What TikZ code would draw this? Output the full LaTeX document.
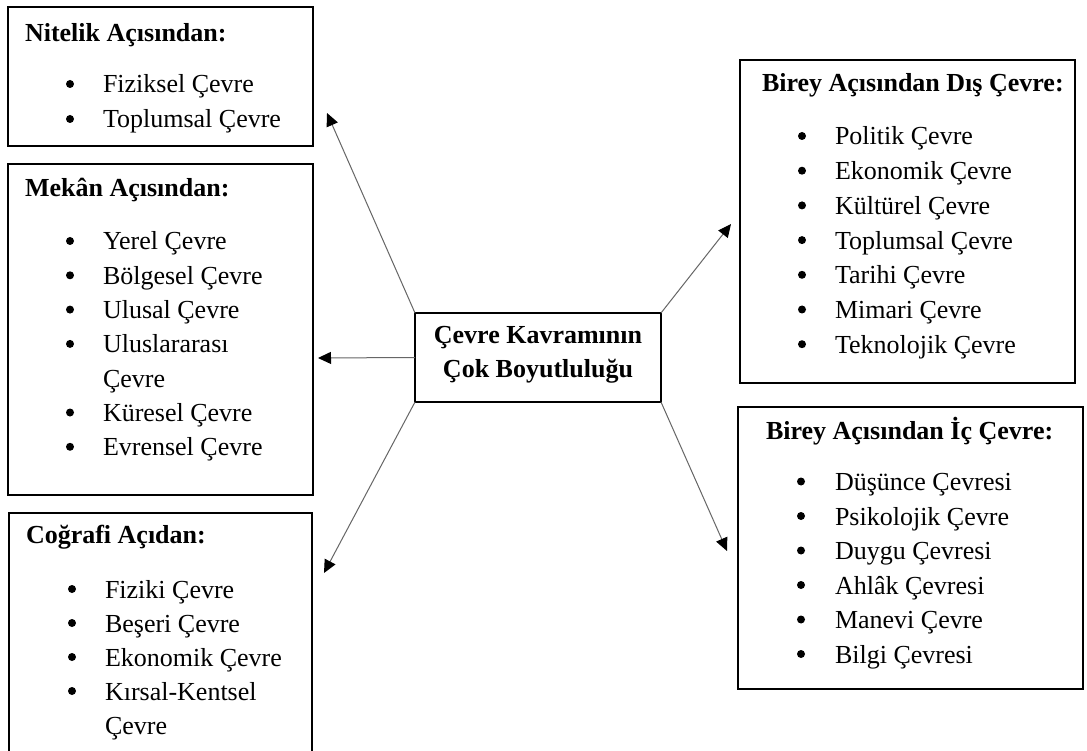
\documentclass[tikz,border=0pt]{standalone}
\usepackage{fontspec}
\setmainfont{Liberation Serif}
\usetikzlibrary{arrows.meta}
\tikzset{
  every node/.style={inner sep=0pt, outer sep=0pt},
  box/.style={draw=black, line width=1.6pt, anchor=north west},
  txt/.style={anchor=base west, font=\fontsize{26}{34}\selectfont},
  head/.style={anchor=base west, font=\fontsize{26}{34}\selectfont\bfseries},
  headc/.style={anchor=base, font=\fontsize{26}{34}\selectfont\bfseries},
  bul/.style={circle, fill=black, minimum size=8pt, yshift=9pt},
  arr/.style={draw=black!60, line width=1pt, -{Triangle[length=13pt,width=12pt,color=black]}},
}
\begin{document}
\begin{tikzpicture}[x=1pt,y=-1pt]
\clip (0,0) rectangle (1087,751);
\fill[white] (0,0) rectangle (1087,751);

% boxes
\node[box, minimum width=305pt, minimum height=139pt] (nit) at (8,7) {};
\node[box, minimum width=305pt, minimum height=331pt] (mek) at (8,164) {};
\node[box, minimum width=303pt, minimum height=260pt] (cog) at (9,513) {};
\node[box, minimum width=335pt, minimum height=323pt] (dis) at (740,60) {};
\node[box, minimum width=345pt, minimum height=282pt] (ic) at (738,407) {};
\node[box, minimum width=246pt, minimum height=89pt] (ctr) at (415,313) {};

% centre text
\node[headc] (ctrA) at (538,343) {Çevre Kavramının};
\node[headc] (ctrB) at (538,377) {Çok Boyutluluğu};

% Nitelik
\node[head] (nitH) at (25,42) {Nitelik Açısından:};
\foreach \t [count=\i from 0] in {Fiziksel Çevre, Toplumsal Çevre} {
  \node[bul] (nitB\i) at (70,{93+\i*35}) {};
  \node[txt] (nitT\i) at (103,{93+\i*35}) {\t};
}

% Mekan
\node[head] (mekH) at (25,197) {Mekân Açısından:};
\foreach \t [count=\i from 0] in {Yerel Çevre, Bölgesel Çevre, Ulusal Çevre, Uluslararası, Çevre, Küresel Çevre, Evrensel Çevre} {
  \node[txt] (mekT\i) at (103,{250+\i*34.3}) {\t};
}
\foreach \i in {0,1,2,3,5,6} {
  \node[bul] (mekB\i) at (70,{250+\i*34.3}) {};
}

% Cografi
\node[head] (cogH) at (26,543) {Coğrafi Açıdan:};
\foreach \t [count=\i from 0] in {Fiziki Çevre, Beşeri Çevre, Ekonomik Çevre, Kırsal-Kentsel, Çevre} {
  \node[txt] (cogT\i) at (105,{598+\i*34}) {\t};
}
\foreach \i in {0,1,2,3} {
  \node[bul] (cogB\i) at (72,{598+\i*34}) {};
}

% Dis
\node[head] (disH) at (762,92) {Birey Açısından Dış Çevre:};
\foreach \t [count=\i from 0] in {Politik Çevre, Ekonomik Çevre, Kültürel Çevre, Toplumsal Çevre, Tarihi Çevre, Mimari Çevre, Teknolojik Çevre} {
  \node[bul] (disB\i) at (802,{145+\i*34.7}) {};
  \node[txt] (disT\i) at (835,{145+\i*34.7}) {\t};
}

% Ic
\node[head] (icH) at (766,439) {Birey Açısından İç Çevre:};
\foreach \t [count=\i from 0] in {Düşünce Çevresi, Psikolojik Çevre, Duygu Çevresi, Ahlâk Çevresi, Manevi Çevre, Bilgi Çevresi} {
  \node[bul] (icB\i) at (801,{490.5+\i*34.5}) {};
  \node[txt] (icT\i) at (835,{490.5+\i*34.5}) {\t};
}

% arrow tips
\coordinate (tN) at (327,113);
\coordinate (tM) at (318,358);
\coordinate (tC) at (324,573);
\coordinate (tD) at (731,224);
\coordinate (tI) at (727,551);

\draw[arr] (ctr.north west) -- (tN);
\draw[arr] (ctr.west) -- (tM);
\draw[arr] (ctr.south west) -- (tC);
\draw[arr] (ctr.north east) -- (tD);
\draw[arr] (ctr.south east) -- (tI);
\end{tikzpicture}
\end{document}
